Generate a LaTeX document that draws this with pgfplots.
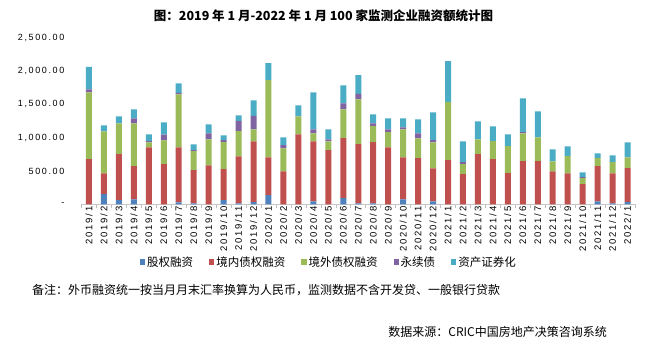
\documentclass[border=0pt]{standalone}
\usepackage{fontspec}
\setmainfont{Noto Sans CJK SC}
\newfontfamily\numfont[LetterSpace=18]{Liberation Sans}
\usepackage{pgfplots}
\pgfplotsset{compat=1.18}
\usepackage{pgfplotstable}
\definecolor{cblue}{HTML}{4F81BD}
\definecolor{cred}{HTML}{C0504D}
\definecolor{cgreen}{HTML}{9BBB59}
\definecolor{cpurple}{HTML}{8064A2}
\definecolor{ccyan}{HTML}{4BACC6}

\pgfplotstableread{
x blue red green purple cyan
0 0 680 1000 45 335
1 155 310 630 0 90
2 65 690 460 0 105
3 75 500 640 75 135
4 0 855 75 20 100
5 0 605 355 85 185
6 30 825 795 20 145
7 15 500 285 15 85
8 0 585 390 90 135
9 65 465 405 30 70
10 15 705 380 150 85
11 35 910 180 200 235
12 140 565 1155 0 255
13 0 495 345 50 115
14 0 1050 270 0 165
15 45 900 120 60 555
16 0 815 130 30 150
17 95 900 430 90 270
18 15 890 670 80 280
19 15 920 240 40 135
20 0 855 230 40 165
21 75 630 420 30 135
22 0 695 295 75 210
23 45 495 390 35 415
24 0 665 870 0 610
25 0 455 150 30 310
26 0 755 220 0 270
27 0 680 270 0 220
28 0 470 405 0 175
29 0 650 415 20 505
30 0 650 355 0 390
31 0 495 150 0 180
32 0 465 260 0 145
33 0 305 90 15 70
34 45 530 120 0 70
35 15 450 170 0 100
36 35 510 160 0 225
}\data

\pgfplotsset{mybar/.style={fill=#1, draw=none,
  legend image code/.code={\fill[fill=#1] (0pt,-2.6pt) rectangle (5.2pt,2.6pt);}}}

\begin{document}
\begin{tikzpicture}
\useasboundingbox (0pt,0pt) rectangle (647pt,350pt);
\node[inner sep=0pt, font=\fontsize{12.5}{14}\selectfont\bfseries] at (323.5pt,334.5pt)
  {图：2019 年 1 月-2022 年 1 月 100 家监测企业融资额统计图};
\begin{axis}[
  at={(81.5pt,145.5pt)}, anchor=south west,
  scale only axis, width=553.5pt, height=167pt,
  ybar stacked, bar width=6pt,
  xmin=-0.5, xmax=36.5, ymin=0, ymax=2500,
  axis x line*=bottom, axis y line*=left,
  y axis line style={draw=none},
  x axis line style={draw=black!22, line width=0.8pt},
  xtick={0,...,36},
  xticklabels={2019/1,2019/2,2019/3,2019/4,2019/5,2019/6,2019/7,2019/8,2019/9,2019/10,2019/11,2019/12,
    2020/1,2020/2,2020/3,2020/4,2020/5,2020/6,2020/7,2020/8,2020/9,2020/10,2020/11,2020/12,
    2021/1,2021/2,2021/3,2021/4,2021/5,2021/6,2021/7,2021/8,2021/9,2021/10,2021/11,2021/12,2022/1},
  minor xtick={-0.5,0.5,...,36.5},
  tick align=outside,
  major tick length=0pt,
  minor tick length=4pt,
  major x tick style={draw=none},
  minor x tick style={draw=black!25, line width=0.6pt},
  ytick={0,500,1000,1500,2000,2500},
  yticklabels={{-\hspace{11pt}},{500.00},{1,000.00},{1,500.00},{2,000.00},{2,500.00}},
  ytick style={draw=none},
  yticklabel style={font=\numfont\fontsize{9}{10}\selectfont, anchor=east, inner sep=0pt, xshift=-17pt},
  xticklabel style={font=\numfont\fontsize{9.5}{10}\selectfont, rotate=90, anchor=east, inner sep=2pt},
  legend style={at={(0.447,-0.344)}, anchor=center, draw=none, fill=none,
    legend columns=-1, font=\fontsize{11.5}{12}\selectfont,
    /tikz/every even column/.append style={column sep=14pt}, inner sep=0pt},
]
\addplot[mybar=cblue] table[x=x,y=blue]{\data};
\addplot[mybar=cred] table[x=x,y=red]{\data};
\addplot[mybar=cgreen] table[x=x,y=green]{\data};
\addplot[mybar=cpurple] table[x=x,y=purple]{\data};
\addplot[mybar=ccyan] table[x=x,y=cyan]{\data};
\legend{股权融资,境内债权融资,境外债权融资,永续债,资产证券化}
\end{axis}
\node[anchor=west, inner sep=0pt, font=\fontsize{12}{14}\selectfont] at (32pt,60pt)
  {备注：外币融资统一按当月月末汇率换算为人民币，监测数据不含开发贷、一般银行贷款};
\node[anchor=east, inner sep=0pt, font=\fontsize{12}{14}\selectfont] at (607pt,18pt)
  {数据来源：CRIC中国房地产决策咨询系统};
\end{tikzpicture}
\end{document}
